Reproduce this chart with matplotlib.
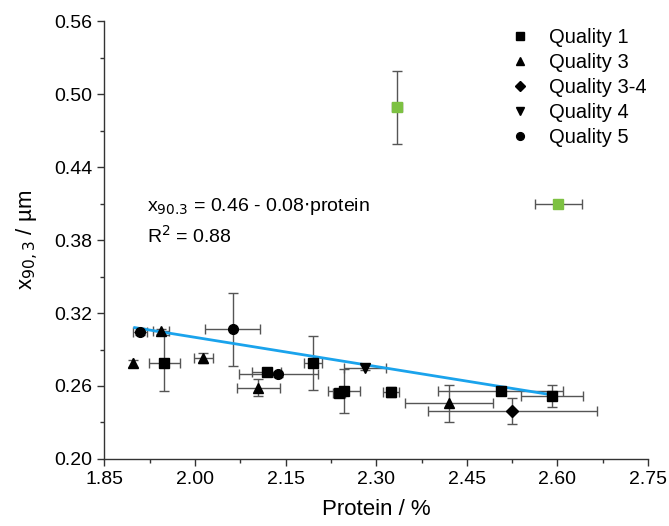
import numpy as np
import matplotlib.pyplot as plt
from matplotlib.ticker import FixedLocator

plt.rcParams['font.family'] = ['Liberation Sans', 'DejaVu Sans']

# protein / %, x90,3 / um, x error, y error
q1_x = [1.949, 2.1185, 2.1947, 2.2387, 2.2465, 2.324, 2.506, 2.591]
q1_y = [0.2787, 0.2713, 0.2787, 0.2540, 0.2559, 0.2548, 0.2561, 0.2520]
q1_xe = [0.026, 0.024, 0.015, 0.010, 0.026, 0.013, 0.104, 0.052]
q1_ye = [0.023, 0.002, 0.022, 0.003, 0.018, 0.004, 0.002, 0.009]

q3_x = [1.898, 1.943, 2.0136, 2.105, 2.420]
q3_y = [0.2787, 0.3050, 0.2833, 0.2586, 0.2458]
q3_xe = [0.0, 0.013, 0.016, 0.035, 0.073]
q3_ye = [0.003, 0.002, 0.004, 0.007, 0.015]

q34_x = [2.525]
q34_y = [0.2395]
q34_xe = [0.140]
q34_ye = [0.011]

q4_x = [2.281]
q4_y = [0.2750]
q4_xe = [0.035]
q4_ye = [0.002]

q5_x = [1.909, 2.062, 2.138]
q5_y = [0.3046, 0.3068, 0.2696]
q5_xe = [0.012, 0.045, 0.065]
q5_ye = [0.003, 0.030, 0.002]

# excluded points (green)
out_x = [2.3348, 2.6013]
out_y = [0.4890, 0.4098]
out_xe = [0.008, 0.039]
out_ye = [0.030, 0.001]

# linear fit x90,3 = a + b*protein
fit_a = 0.46
fit_b = -0.08
fit_range = [1.900, 2.590]

x_ticks = [1.85, 2.00, 2.15, 2.30, 2.45, 2.60, 2.75]
y_ticks = [0.20, 0.26, 0.32, 0.38, 0.44, 0.50, 0.56]

fig = plt.figure(figsize=(6.69, 5.26), dpi=100)
ax = fig.add_axes([0.1562, 0.1274, 0.8124, 0.8326])

eb = dict(fmt='none', ecolor='#555555', elinewidth=1.0, capsize=3.5, capthick=1.0, zorder=2)
ax.errorbar(q1_x, q1_y, xerr=q1_xe, yerr=q1_ye, **eb)
ax.errorbar(q3_x, q3_y, xerr=q3_xe, yerr=q3_ye, **eb)
ax.errorbar(q34_x, q34_y, xerr=q34_xe, yerr=q34_ye, **eb)
ax.errorbar(q4_x, q4_y, xerr=q4_xe, yerr=q4_ye, **eb)
ax.errorbar(q5_x, q5_y, xerr=q5_xe, yerr=q5_ye, **eb)
ax.errorbar(out_x, out_y, xerr=out_xe, yerr=out_ye, **eb)

xf = np.array(fit_range)
ax.plot(xf, fit_a + fit_b * xf, color='#1AA3EC', lw=2.0, zorder=3)

mk = dict(color='black', ls='none', zorder=4)
ax.plot(q1_x, q1_y, marker='s', ms=6.5, label='Quality 1', **mk)
ax.plot(q3_x, q3_y, marker='^', ms=7.5, label='Quality 3', **mk)
ax.plot(q34_x, q34_y, marker='D', ms=6.5, label='Quality 3-4', **mk)
ax.plot(q4_x, q4_y, marker='v', ms=7.5, label='Quality 4', **mk)
ax.plot(q5_x, q5_y, marker='o', ms=7, label='Quality 5', **mk)
ax.plot(out_x, out_y, marker='s', ms=6.5, color='#7DC142', ls='none', zorder=4)

ax.text(1.92, 0.4035, r'x$_{90.3}$ = 0.46 - 0.08$\cdot$protein', fontsize=14,
        va='baseline')
ax.text(1.92, 0.3775, r'R$^2$ = 0.88', fontsize=14, va='baseline')

ax.set_xlim(1.85, 2.75)
ax.set_ylim(0.20, 0.56)
ax.xaxis.set_major_locator(FixedLocator(x_ticks))
ax.yaxis.set_major_locator(FixedLocator(y_ticks))
ax.xaxis.set_minor_locator(FixedLocator(np.array(x_ticks[:-1]) + 0.075))
ax.yaxis.set_minor_locator(FixedLocator(np.array(y_ticks[:-1]) + 0.03))
ax.xaxis.set_major_formatter(plt.FormatStrFormatter('%.2f'))
ax.yaxis.set_major_formatter(plt.FormatStrFormatter('%.2f'))
ax.tick_params(which='major', direction='out', length=5, width=1, labelsize=14, color='#333333')
ax.tick_params(which='minor', direction='out', length=3, width=1, color='#333333')
for s in ['top', 'right']:
    ax.spines[s].set_visible(False)
for s in ['left', 'bottom']:
    ax.spines[s].set_linewidth(1.0)
    ax.spines[s].set_color('#333333')

ax.set_xlabel('Protein / %', fontsize=16, labelpad=8)
ax.set_ylabel(r'x$_{90,3}$ / µm', fontsize=16, labelpad=10)

ax.legend(loc='upper right', bbox_to_anchor=(1.03, 1.025), frameon=False, fontsize=14.5,
          handletextpad=0.9, labelspacing=0.3, markerscale=0.8, handlelength=1.0)

fig.savefig('out.png', dpi=100)
